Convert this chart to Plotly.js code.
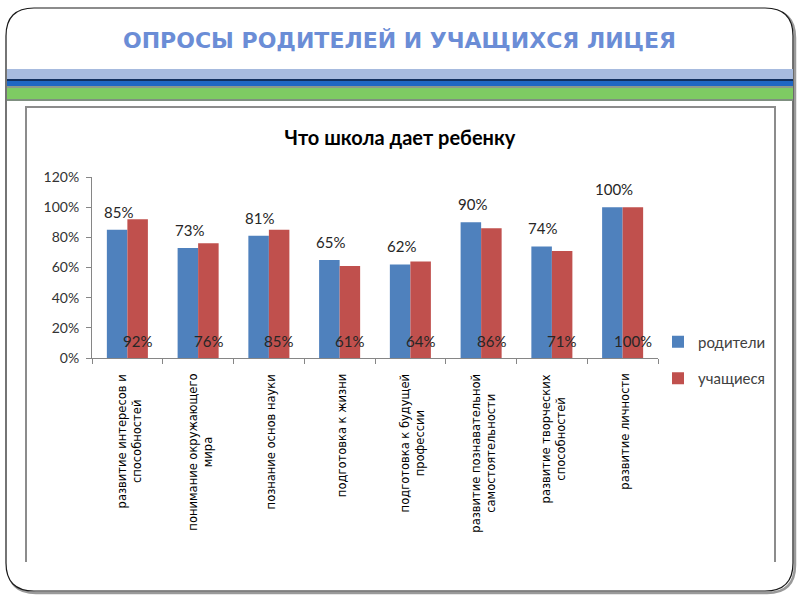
<!DOCTYPE html>
<html>
<head>
<meta charset="utf-8">
<script src="https://cdn.plot.ly/plotly-3.0.1.min.js"></script>
<style>
html,body{margin:0;padding:0;background:#fff;}
#chart{width:800px;height:600px;}
</style>
</head>
<body>
<div id="chart"></div>
<script>
// ---- data ----
const categories = [
  'развитие интересов и способностей',
  'понимание окружающего мира',
  'познание основ науки',
  'подготовка к жизни',
  'подготовка к будущей профессии',
  'развитие познавательной самостоятельности',
  'развитие творческих способностей',
  'развитие личности'
];
const categoryLabels = [
  'развитие интересов и<br>способностей',
  'понимание окружающего<br>мира',
  'познание основ науки',
  'подготовка к жизни',
  'подготовка к будущей<br>профессии',
  'развитие познавательной<br>самостоятельности',
  'развитие творческих<br>способностей',
  'развитие личности'
];
const seriesNames = ['родители', 'учащиеся'];
const parents  = [0.85, 0.73, 0.81, 0.65, 0.62, 0.90, 0.74, 1.00];
const students = [0.92, 0.76, 0.85, 0.61, 0.64, 0.86, 0.71, 1.00];
const yTicks = [0, 0.2, 0.4, 0.6, 0.8, 1.0, 1.2];
const yTickLabels = ['0%', '20%', '40%', '60%', '80%', '100%', '120%'];
const slideTitle = 'ОПРОСЫ РОДИТЕЛЕЙ И УЧАЩИХСЯ ЛИЦЕЯ';
const chartTitle = 'Что школа дает ребенку';

// ---- layout helpers (pixel -> paper) ----
const L = 92, R = 658, T = 177, B = 358;
const px = x => (x - L) / (R - L);
const py = y => (B - y) / (B - T);

function roundRect(x0, y0, x1, y1, r) {
  return `M${px(x0 + r)},${py(y0)} L${px(x1 - r)},${py(y0)} ` +
    `Q${px(x1)},${py(y0)} ${px(x1)},${py(y0 + r)} L${px(x1)},${py(y1 - r)} ` +
    `Q${px(x1)},${py(y1)} ${px(x1 - r)},${py(y1)} L${px(x0 + r)},${py(y1)} ` +
    `Q${px(x0)},${py(y1)} ${px(x0)},${py(y1 - r)} L${px(x0)},${py(y0 + r)} ` +
    `Q${px(x0)},${py(y0)} ${px(x0 + r)},${py(y0)} Z`;
}
function band(y0, y1, color) {
  return {type: 'rect', xref: 'paper', yref: 'paper', layer: 'below',
    x0: px(7), x1: px(793), y0: py(y0), y1: py(y1),
    fillcolor: color, line: {width: 0}};
}

const shapes = [
  {type: 'path', xref: 'paper', yref: 'paper', layer: 'below',
   path: roundRect(8, 10, 795, 593, 28), line: {color: '#9a9a9a', width: 2.5}},
  {type: 'path', xref: 'paper', yref: 'paper', layer: 'below',
   path: roundRect(6, 8, 793, 591, 28), fillcolor: '#ffffff', line: {color: '#1a1a1a', width: 1.2}},
  band(69, 79, '#a7bbdf'),
  band(79, 81, '#12305e'),
  band(81, 86, '#1f67c3'),
  band(86, 88, '#8c9a8c'),
  band(88, 99, '#7ecb63'),
  band(99, 101, '#7f8f80'),
  {type: 'path', xref: 'paper', yref: 'paper', layer: 'below',
   path: `M${px(26)},${py(562)} L${px(26)},${py(107)} L${px(775)},${py(107)} L${px(775)},${py(562)}`,
   line: {color: '#8c8c8c', width: 2}}
];

const labelFont = {family: 'Lato, sans-serif', size: 15, color: '#262626'};
const annotations = [
  {xref: 'paper', yref: 'paper', x: px(399), y: py(41), xanchor: 'center', yanchor: 'middle', showarrow: false,
   text: slideTitle, font: {family: 'DejaVu Sans, sans-serif', size: 22, color: '#6b8dd6', weight: 'bold'}}
];
categories.forEach((c, i) => {
  annotations.push({xref: 'x', yref: 'y', x: c, y: parents[i], yshift: 18, xshift: -9,
    showarrow: false, text: Math.round(parents[i] * 100) + '%', font: labelFont});
  annotations.push({xref: 'x', yref: 'y', x: c, y: 0, yshift: 17, xshift: 10,
    showarrow: false, text: Math.round(students[i] * 100) + '%', font: labelFont});
  annotations.push({xref: 'x', yref: 'paper', x: c, y: py(372), yanchor: 'top', xanchor: 'center',
    xshift: 2, textangle: -90, align: 'center', showarrow: false, text: categoryLabels[i],
    font: {family: 'DejaVu Sans, sans-serif', size: 11.5, color: '#000'}});
});

const data = [
  {type: 'bar', name: seriesNames[0], x: categories, y: parents,
   marker: {color: '#4f81bd'}, legendgroup: 'a', hoverinfo: 'skip'},
  {type: 'bar', name: seriesNames[1], x: categories, y: students,
   marker: {color: '#c0504d'}, legendgroup: 'b', hoverinfo: 'skip'}
];

const layout = {
  width: 800, height: 600,
  margin: {l: L, r: 800 - R, t: T, b: 600 - B, pad: 0},
  paper_bgcolor: '#ffffff', plot_bgcolor: 'rgba(0,0,0,0)',
  title: {text: chartTitle, x: 400 / 800, xanchor: 'center', xref: 'container',
          y: 1 - 138 / 600, yanchor: 'middle', yref: 'container',
          font: {family: 'Lato, sans-serif', size: 20, color: '#000', weight: 'bold'}},
  barmode: 'group', bargap: 0.42, bargroupgap: 0,
  showlegend: true,
  legend: {orientation: 'v', x: px(658), xanchor: 'left', y: py(360), yanchor: 'middle',
           traceorder: 'grouped', tracegroupgap: 14,
           font: {family: 'Lato, sans-serif', size: 15, color: '#404040'}, bgcolor: 'rgba(0,0,0,0)'},
  xaxis: {type: 'category', range: [-0.5, 7.5], showline: true, linecolor: '#868686', linewidth: 1,
          ticks: 'outside', tickson: 'boundaries', ticklen: 5, tickcolor: '#868686',
          showticklabels: false, showgrid: false, zeroline: false, fixedrange: true},
  yaxis: {range: [0, 1.2], tickvals: yTicks, ticktext: yTickLabels, showline: true,
          linecolor: '#868686', linewidth: 1, ticks: 'outside', ticklen: 5, tickcolor: '#868686',
          ticklabelstandoff: 4, showgrid: false, zeroline: false, fixedrange: true,
          tickfont: {family: 'Lato, sans-serif', size: 14, color: '#333'}},
  shapes: shapes,
  annotations: annotations
};

Plotly.newPlot('chart', data, layout, {staticPlot: true, displayModeBar: false});
</script>
</body>
</html>
